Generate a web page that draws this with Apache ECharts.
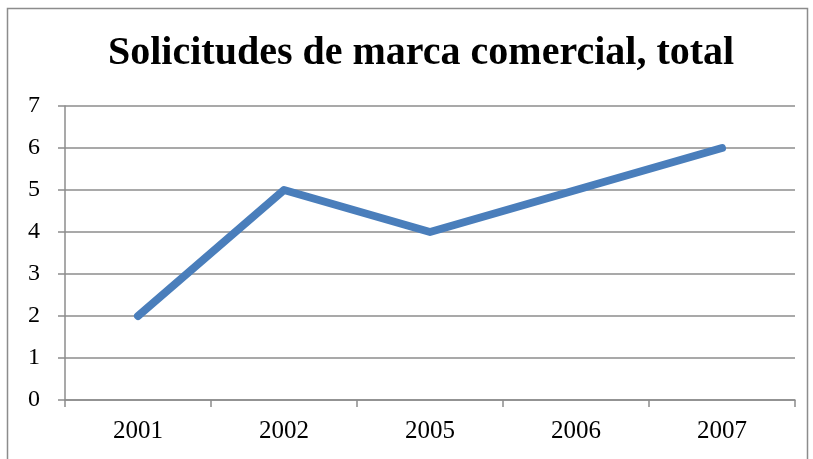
<!DOCTYPE html>
<html>
<head>
<meta charset="utf-8">
<script src="https://cdn.jsdelivr.net/npm/echarts@6/dist/echarts.min.js"></script>
<style>
  html, body { margin: 0; padding: 0; background: #fff; }
  #chart { width: 813px; height: 459px; }
</style>
</head>
<body>
<div id="chart"></div>
<script>
// datos del gráfico
const years = ['2001', '2002', '2005', '2006', '2007'];
const totals = [2, 5, 4, 5, 6];
const yTicks = [0, 1, 2, 3, 4, 5, 6, 7];

const chart = echarts.init(document.getElementById('chart'));
const serif = '"Liberation Serif", "DejaVu Serif", serif';

const option = {
  backgroundColor: '#fff',
  animation: false,
  graphic: [{
    type: 'rect',
    shape: { x: 7.5, y: 8.5, width: 800, height: 470 },
    style: { fill: 'none', stroke: '#8c8c8c', lineWidth: 1.5 }
  }],
  title: {
    text: 'Solicitudes de marca comercial, total',
    left: 103,
    top: 29,
    textStyle: { fontFamily: serif, fontWeight: 'bold', fontSize: 40, color: '#000' }
  },
  grid: { left: 65, right: 18, top: 106, bottom: 59 },
  xAxis: {
    type: 'category',
    data: years,
    boundaryGap: true,
    axisLine: { lineStyle: { color: '#8c8c8c', width: 1.5 } },
    axisTick: { show: true, length: 7, inside: false, alignWithLabel: false, lineStyle: { color: '#8c8c8c', width: 1.5 } },
    axisLabel: { fontFamily: serif, fontSize: 25, color: '#000', margin: 19 }
  },
  yAxis: {
    type: 'value',
    min: yTicks[0],
    max: yTicks[yTicks.length - 1],
    interval: 1,
    axisLine: { show: true, lineStyle: { color: '#8c8c8c', width: 1.5 } },
    axisTick: { show: true, length: 7, lineStyle: { color: '#8c8c8c', width: 1.5 } },
    splitLine: { lineStyle: { color: '#8c8c8c', width: 1.5 } },
    axisLabel: { fontFamily: serif, fontSize: 24, color: '#000', margin: 25 }
  },
  series: [{
    type: 'line',
    data: totals,
    showSymbol: false,
    lineStyle: { color: '#4a7ebb', width: 8, cap: 'round', join: 'round' }
  }]
};

chart.setOption(option);
</script>
</body>
</html>
